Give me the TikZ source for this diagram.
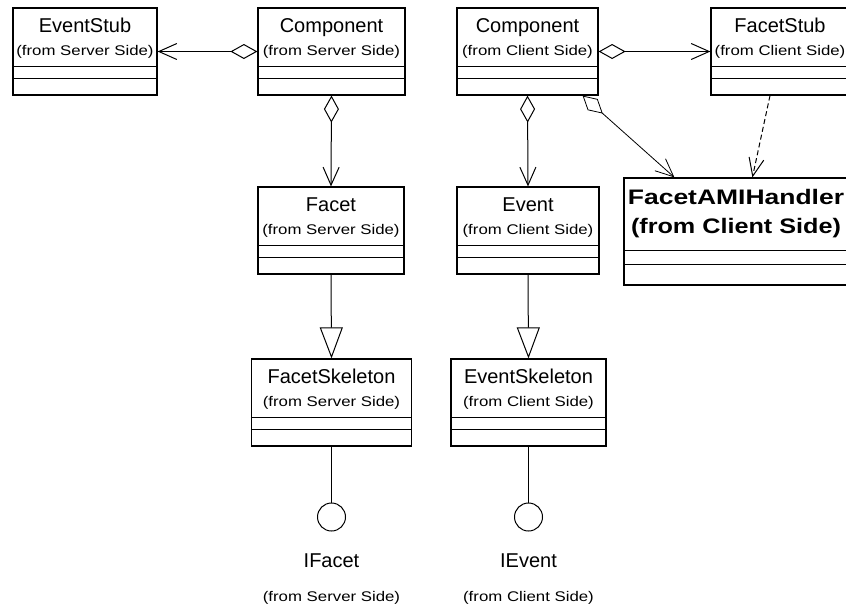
\documentclass[tikz,border=0pt]{standalone}
\usepackage{fontspec}
\setmainfont{Liberation Sans}
\newfontfamily\sidefont[FakeStretch=1.2]{Liberation Sans}
\newfontfamily\handlerfont[FakeStretch=1.26]{Liberation Sans}
\newfontfamily\handlersidefont[FakeStretch=1.2]{Liberation Sans}
\usetikzlibrary{arrows.meta}

\tikzset{
  classbox/.style={draw, line width=1.2pt, inner sep=0pt, fill=white},
  classline/.style={line width=1.2pt},
  title/.style={anchor=base, inner sep=0pt, font=\fontsize{20}{24}\selectfont},
  side/.style={inner sep=0pt, font=\sidefont\fontsize{14}{16}\selectfont},
  iface/.style={circle, draw, line width=1pt, minimum size=28pt, inner sep=0pt},
  assoc/.style={line width=1pt, {Diamond[open,length=27pt,width=15pt]}-{Straight Barb[length=18pt,width=16pt]}},
  depend/.style={line width=1pt, dash pattern=on 5pt off 3pt, -{Straight Barb[length=18pt,width=15pt]}},
  inherit/.style={line width=1pt, -{Triangle[open,length=31pt,width=23pt]}},
  realize/.style={line width=1pt}
}

\begin{document}
\begin{tikzpicture}[x=1pt, y=-1pt]
  \useasboundingbox (0,0) rectangle (846,608);
  \fill[white] (0,0) rectangle (846,608);

  % class boxes: name / x / y / width / title / side
  \foreach \name/\x/\y/\w/\title/\side in {
      esstub/85/51.5/144/EventStub/(from Server Side),
      compS/331.5/51.5/147/Component/(from Server Side),
      compC/527.5/51.5/141/Component/(from Client Side),
      fstub/780/51.5/138/FacetStub/(from Client Side),
      facet/331/230.5/146/Facet/(from Server Side),
      event/528/230.5/142/Event/(from Client Side),
      fskel/331.5/402.5/160/FacetSkeleton/(from Server Side),
      eskel/528.5/402.5/155/EventSkeleton/(from Client Side)}{
    \node[classbox, minimum width=\w pt, minimum height=87pt] (\name) at (\x,\y) {};
    \draw[classline] ([yshift=29pt]\name.south west) -- ([yshift=29pt]\name.south east);
    \draw[classline] ([yshift=17pt]\name.south west) -- ([yshift=17pt]\name.south east);
    \node[title] (\name-t) at ([yshift=-25pt]\name.north) {\title};
    \node[side] (\name-s) at ([yshift=-44pt]\name.north) {\side};
  }

  % handler box
  \node[classbox, minimum width=224pt, minimum height=107pt] (handler) at (736,231.5) {};
  \draw[classline] ([yshift=35pt]handler.south west) -- ([yshift=35pt]handler.south east);
  \draw[classline] ([yshift=21pt]handler.south west) -- ([yshift=21pt]handler.south east);
  \node[anchor=base, inner sep=0pt, font=\handlerfont\bfseries\fontsize{21}{24}\selectfont]
    (handler-t) at ([yshift=-27pt]handler.north) {FacetAMIHandler};
  \node[anchor=base, inner sep=0pt, font=\handlersidefont\bfseries\fontsize{21}{24}\selectfont]
    (handler-s) at ([yshift=-56pt]handler.north) {(from Client Side)};

  % interfaces
  \node[iface] (ifacet) at (331.5,517) {};
  \node[title] (ifacet-t) at (331.5,567) {IFacet};
  \node[side] (ifacet-s) at (331.5,598) {(from Server Side)};
  \node[iface] (ievent) at (528.5,517) {};
  \node[title] (ievent-t) at (528.5,567) {IEvent};
  \node[side] (ievent-s) at (528.5,598) {(from Client Side)};

  % connectors
  \draw[assoc] (compS.west) -- (esstub.east);
  \draw[assoc] (compS.south) -- (facet.north);
  \draw[assoc] (compC.east) -- (fstub.west);
  \draw[assoc] (compC.south) -- (event.north);
  \draw[assoc, line width=0.8pt] ([xshift=-16pt]compC.south east) -- ([xshift=51pt]handler.north west);
  \draw[depend] ([xshift=-10pt]fstub.south) -- ([xshift=129pt]handler.north west);
  \draw[inherit] (facet.south) -- (fskel.north);
  \draw[inherit] (event.south) -- (eskel.north);
  \draw[realize] (fskel.south) -- (ifacet.north);
  \draw[realize] (eskel.south) -- (ievent.north);
\end{tikzpicture}
\end{document}
